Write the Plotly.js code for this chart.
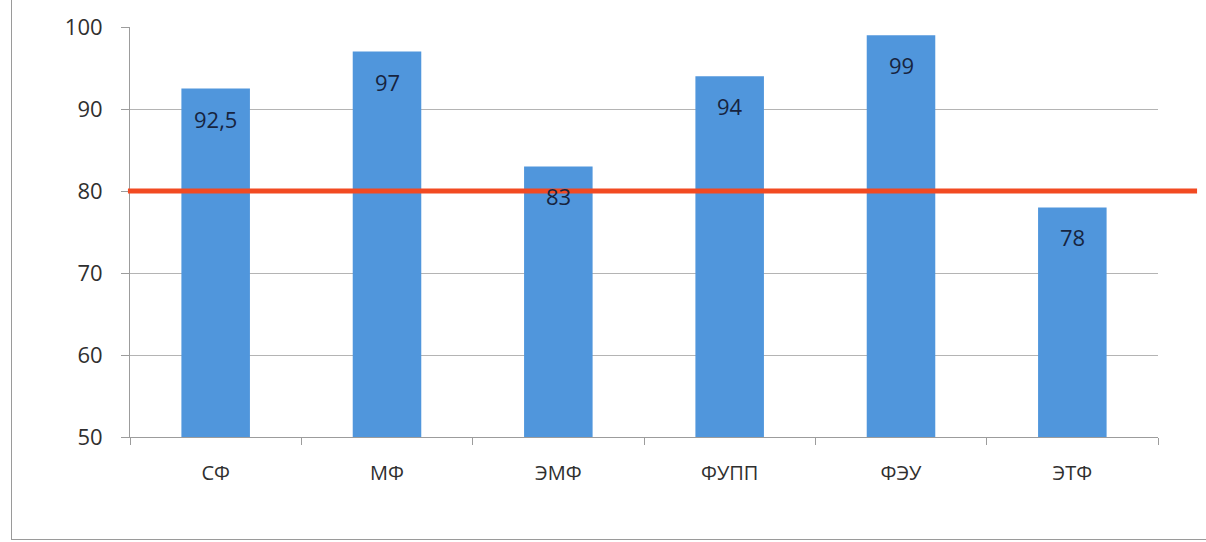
<!DOCTYPE html>
<html>
<head>
<meta charset="utf-8">
<script src="https://cdn.plot.ly/plotly-3.0.1.min.js"></script>
<style>
  html, body { margin: 0; padding: 0; background: #fff; }
  #frame { position: absolute; left: 0; top: 0; width: 1206px; height: 542px; }
  #border { position: absolute; left: 11px; top: -2px; width: 1200px; height: 542px;
            border-left: 1px solid #9a9a9a; border-bottom: 1px solid #9a9a9a; box-sizing: border-box; pointer-events: none; }
  #chart { position: absolute; left: 0; top: 0; width: 1206px; height: 542px; }
</style>
</head>
<body>
<div id="frame">
  <div id="chart"></div>
  <div id="border"></div>
</div>
<script>
const categories = ["СФ", "МФ", "ЭМФ", "ФУПП", "ФЭУ", "ЭТФ"];
const values = [92.5, 97, 83, 94, 99, 78];
const threshold = 80;
const yTicks = [50, 60, 70, 80, 90, 100];

const labels = values.map(v => String(v).replace(".", ","));

const bars = {
  type: "bar",
  x: categories,
  y: values,
  marker: { color: "#5096dc" },
  hoverinfo: "x+y",
  showlegend: false
};

const annotations = categories.map((c, i) => ({
  x: c, y: values[i], xref: "x", yref: "y",
  text: labels[i], showarrow: false, yshift: -30,
  font: { family: "Open Sans, sans-serif", size: 22, color: "#17243f" }
}));

const layout = {
  width: 1206, height: 542,
  margin: { l: 130, r: 48, t: 27, b: 105 },
  paper_bgcolor: "rgba(0,0,0,0)",
  plot_bgcolor: "#fff",
  bargap: 0.6,
  showlegend: false,
  xaxis: {
    type: "category",
    showline: true, linecolor: "#9c9c9c", linewidth: 1,
    ticks: "outside", tickson: "boundaries", ticklen: 7, tickcolor: "#9c9c9c",
    showgrid: false,
    tickfont: { family: "Open Sans, sans-serif", size: 20, color: "#2f2f2f" },
    ticklabelstandoff: 18
  },
  yaxis: {
    range: [50, 100],
    tickvals: yTicks,
    showline: true, linecolor: "#9c9c9c", linewidth: 1,
    ticks: "outside", ticklen: 8, tickcolor: "#9c9c9c",
    showgrid: true, gridcolor: "#b4b4b4", gridwidth: 1,
    zeroline: false,
    tickfont: { family: "Open Sans, sans-serif", size: 22, color: "#2f2f2f" },
    ticklabelstandoff: 14
  },
  shapes: [{
    type: "line", xref: "paper", yref: "y",
    x0: -0.002, x1: 1.038, y0: threshold, y1: threshold,
    line: { color: "#f24a22", width: 5 },
    layer: "above"
  }],
  annotations: annotations
};

Plotly.newPlot("chart", [bars], layout, { displayModeBar: false, staticPlot: true });
</script>
</body>
</html>
